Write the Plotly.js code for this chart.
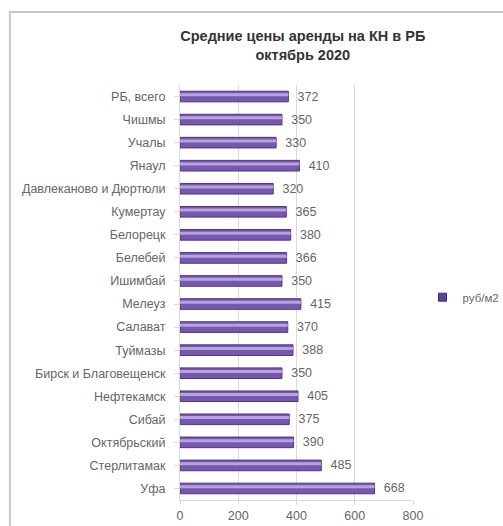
<!DOCTYPE html>
<html>
<head>
<meta charset="utf-8">
<script src="https://cdn.plot.ly/plotly-3.0.1.min.js"></script>
<style>html,body{margin:0;padding:0;background:#fff;}#chart{width:503px;height:526px;}</style>
</head>
<body>
<div id="chart"></div>
<script>
var categories = ["РБ, всего","Чишмы","Учалы","Янаул","Давлеканово и Дюртюли","Кумертау","Белорецк","Белебей","Ишимбай","Мелеуз","Салават","Туймазы","Бирск и Благовещенск","Нефтекамск","Сибай","Октябрьский","Стерлитамак","Уфа"];
var values = [372,350,330,410,320,365,380,366,350,415,370,388,350,405,375,390,485,668];
var seriesName = "руб/м2";
var titleText = "<b>Средние цены аренды на КН в РБ<br>октябрь 2020</b>";
var xTicks = [0,200,400,600,800];

var font = "Liberation Sans, Arial, sans-serif";
var main = {
  type: "bar", orientation: "h", y: categories, x: values, name: seriesName, showlegend: false,
  width: 0.46,
  marker: {color: "#7659ad", line: {color: "#4e3585", width: 1}},
  texttemplate: "\u2002%{x}", textposition: "outside", cliponaxis: false, constraintext: "none",
  textfont: {family: font, size: 12.5, color: "#666"},
  hoverinfo: "x+y"
};
var shine = {
  type: "bar", orientation: "h", y: categories, x: values, showlegend: false,
  width: 0.13, offset: -0.14,
  marker: {color: "#b7a2e0", line: {width: 0}}, hoverinfo: "skip"
};
var legendItem = {
  type: "scatter", mode: "markers", x: [null], y: [null], name: seriesName,
  marker: {symbol: "square", size: 8, color: "#5a4398", line: {color: "#3d2a70", width: 1}},
  hoverinfo: "skip"
};
var layout = {
  width: 503, height: 526,
  margin: {l: 180, r: 90, t: 85, b: 26},
  paper_bgcolor: "#fff", plot_bgcolor: "#fff",
  barmode: "overlay",
  title: {text: titleText, x: 0.527, xref: "paper", y: 0.922, yanchor: "top",
          font: {family: font, size: 14.5, color: "#333"}},
  font: {family: font, size: 12.5, color: "#666"},
  xaxis: {range: [0, 800], tickvals: xTicks, ticktext: xTicks.map(String),
          showgrid: true, gridcolor: "#d9d9d9", gridwidth: 1, zeroline: false,
          showline: true, linecolor: "#d9d9d9", ticks: "outside", ticklen: 4, tickcolor: "#d9d9d9",
          tickfont: {family: font, size: 12.5, color: "#666"}, fixedrange: true},
  yaxis: {type: "category", autorange: "reversed", showgrid: false, showline: true,
          linecolor: "#d9d9d9", ticks: "outside", ticklen: 5, tickcolor: "#d9d9d9",
          ticklabelstandoff: 6,
          tickfont: {family: font, size: 12.5, color: "#666"}, fixedrange: true},
  showlegend: true,
  legend: {xref: "container", yref: "container", x: 0.84, y: 0.435, xanchor: "left", yanchor: "middle",
           bgcolor: "rgba(0,0,0,0)", itemwidth: 30,
           font: {family: font, size: 11.5, color: "#666"}},
  shapes: [{type: "rect", xref: "paper", yref: "paper", x0: -0.73, x1: 1.6, y0: -0.3, y1: 1.176,
            line: {color: "#c6c6c6", width: 2}, layer: "below"}]
};
Plotly.newPlot("chart", [main, shine, legendItem], layout, {displayModeBar: false, staticPlot: true});
</script>
</body>
</html>
